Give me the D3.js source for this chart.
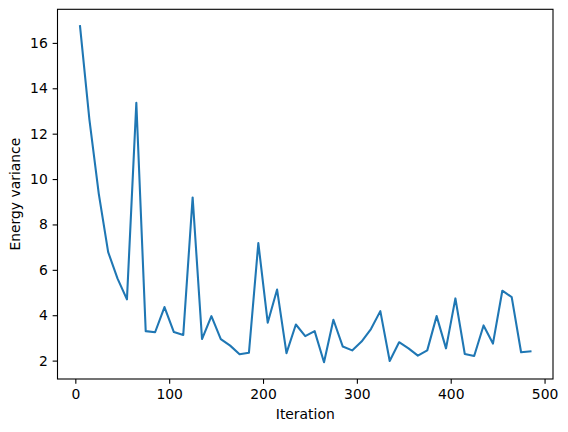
<!DOCTYPE html>
<html>
<head>
<meta charset="utf-8">
<script src="https://cdn.jsdelivr.net/npm/d3@7"></script>
<style>
  body { margin: 0; background: #fff; }
  svg { display: block; font-family: "DejaVu Sans", sans-serif; }
</style>
</head>
<body>
<svg id="chart"></svg>
<script>
  // iterations (x) and energy variance (y)
  var iterations = [5, 15, 25, 35, 45, 55, 65, 75, 85, 95,
    105, 115, 125, 135, 145, 155, 165, 175, 185, 195,
    205, 215, 225, 235, 245, 255, 265, 275, 285, 295,
    305, 315, 325, 335, 345, 355, 365, 375, 385, 395,
    405, 415, 425, 435, 445, 455, 465, 475, 485];
  var variance = [16.74, 12.62, 9.35, 6.78, 5.61, 4.70, 13.36, 3.30, 3.25, 4.36,
    3.26, 3.13, 9.19, 2.95, 3.96, 2.95, 2.66, 2.28, 2.35, 7.18,
    3.67, 5.13, 2.33, 3.59, 3.08, 3.30, 1.93, 3.80, 2.62, 2.45,
    2.84, 3.39, 4.18, 1.98, 2.81, 2.54, 2.22, 2.45, 3.96, 2.54,
    4.74, 2.29, 2.20, 3.55, 2.75, 5.08, 4.80, 2.37, 2.41];
  var xTicks = [0, 100, 200, 300, 400, 500];
  var yTicks = [2, 4, 6, 8, 10, 12, 14, 16];

  var width = 568;
  var height = 432;
  var margin = { top: 9.3, right: 15, bottom: 53, left: 57.5 };
  var w = width - margin.left - margin.right;
  var h = height - margin.top - margin.bottom;

  var points = iterations.map(function (d, i) {
    return { x: d, y: variance[i] };
  });

  // matplotlib style 5% padding around the data
  var xmin = d3.min(iterations), xmax = d3.max(iterations);
  var ymin = d3.min(variance), ymax = d3.max(variance);
  var xpad = (xmax - xmin) * 0.05, ypad = (ymax - ymin) * 0.05;

  var xs = d3.scaleLinear().domain([xmin - xpad, xmax + xpad]).range([0, w]);
  var ys = d3.scaleLinear().domain([ymin - ypad, ymax + ypad]).range([h, 0]);

  var svg = d3.select("#chart").attr("width", width).attr("height", height);
  var g = svg.append("g")
    .attr("transform", "translate(" + margin.left + "," + margin.top + ")");

  // line
  var line = d3.line()
    .x(function (d) { return xs(d.x); })
    .y(function (d) { return ys(d.y); });

  g.append("path")
    .datum(points)
    .attr("d", line)
    .attr("fill", "none")
    .attr("stroke", "#1f77b4")
    .attr("stroke-width", 2.08)
    .attr("stroke-linejoin", "round")
    .attr("stroke-linecap", "square");

  // x axis
  var xAxis = g.append("g")
    .attr("transform", "translate(0," + h + ")")
    .call(d3.axisBottom(xs).tickValues(xTicks).tickSize(4.86).tickPadding(4.86));
  // y axis
  var yAxis = g.append("g")
    .call(d3.axisLeft(ys).tickValues(yTicks).tickSize(4.86).tickPadding(4.86));

  [xAxis, yAxis].forEach(function (a) {
    a.select(".domain").remove();
    a.selectAll(".tick line").attr("stroke", "#000").attr("stroke-width", 1.1);
    a.selectAll(".tick text")
      .attr("fill", "#000")
      .style("font-family", "DejaVu Sans")
      .style("font-size", "13.9px");
  });

  // frame
  g.append("rect")
    .attr("x", 0).attr("y", 0)
    .attr("width", w).attr("height", h)
    .attr("fill", "none")
    .attr("stroke", "#000")
    .attr("stroke-width", 1.1);

  // axis labels
  svg.append("text")
    .attr("x", margin.left + w / 2)
    .attr("y", 419)
    .attr("text-anchor", "middle")
    .style("font-size", "13.9px")
    .text("Iteration");

  svg.append("text")
    .attr("transform", "translate(20," + (margin.top + h / 2) + ") rotate(-90)")
    .attr("text-anchor", "middle")
    .style("font-size", "13.9px")
    .text("Energy variance");
</script>
</body>
</html>
